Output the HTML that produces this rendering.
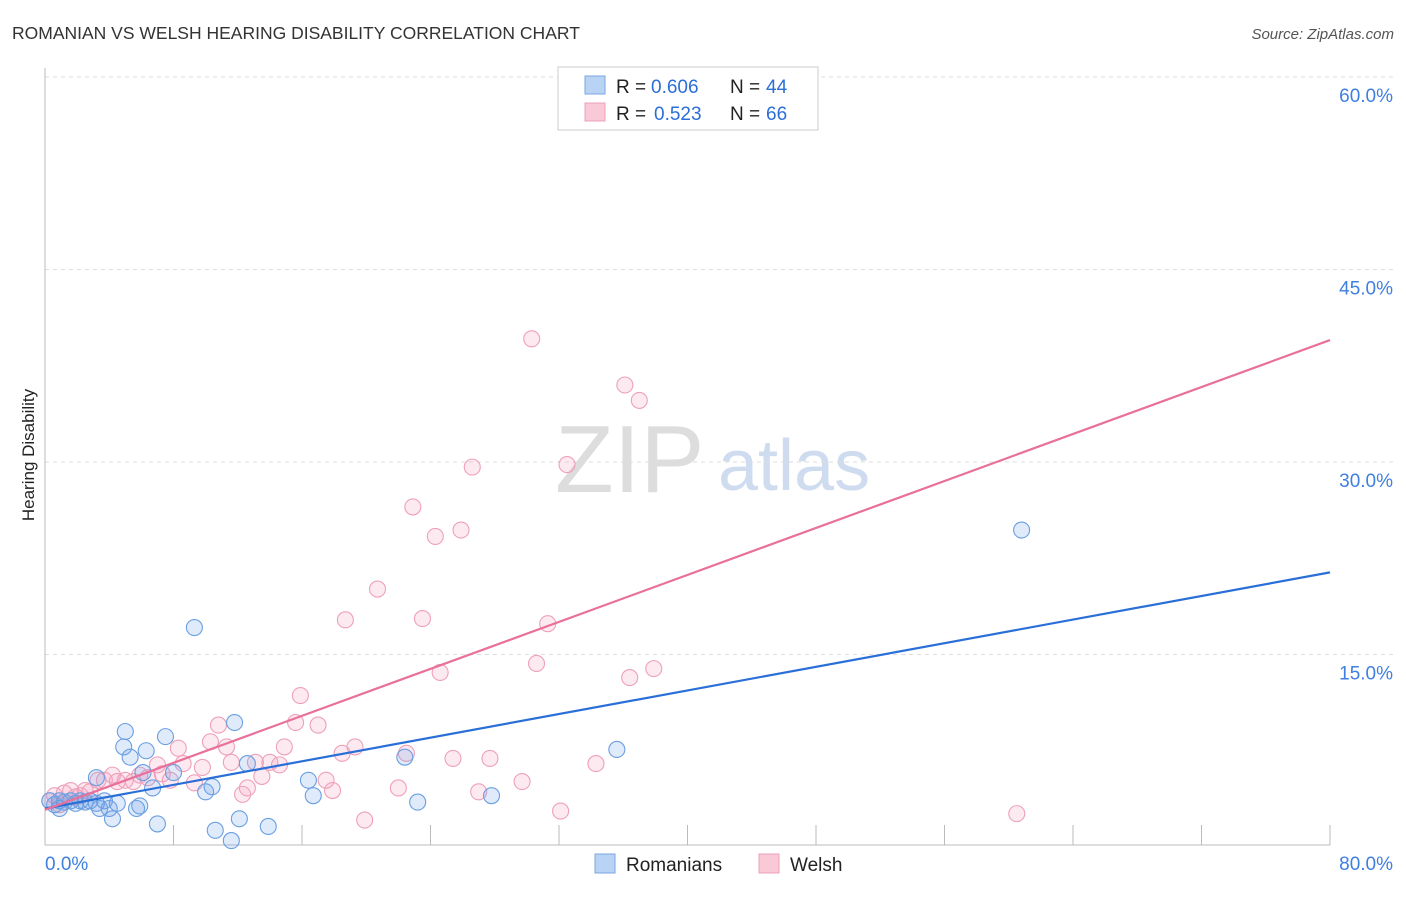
<!DOCTYPE html>
<html><head><meta charset="utf-8">
<style>
body{margin:0;background:#fff;font-family:"Liberation Sans",sans-serif;}
svg text{font-family:"Liberation Sans",sans-serif;}
</style></head>
<body>
<svg id="chart" width="1406" height="892" xmlns="http://www.w3.org/2000/svg">
<text x="12" y="39" font-size="17.5" fill="#333">ROMANIAN VS WELSH HEARING DISABILITY CORRELATION CHART</text>
<text x="1394" y="39" font-size="15" fill="#555" font-style="italic" text-anchor="end">Source: ZipAtlas.com</text>
<text x="34" y="455" font-size="17" fill="#222" transform="rotate(-90 34 455)" text-anchor="middle">Hearing Disability</text>
<text x="555" y="492" font-size="96" fill="#ddd" font-family="Liberation Serif">ZIP</text>
<text x="718" y="490" font-size="72" fill="#cfdcf0">atlas</text>
<g id="grid"></g><g id="pts"></g><g id="lines"></g>
<g>
<rect x="558" y="67" width="260" height="63" fill="#fff" stroke="#ccc"/>
<rect x="585" y="76" width="20" height="18" fill="#b9d3f5" stroke="#7aa6e0"/>
<rect x="585" y="103" width="20" height="18" fill="#f9c9d8" stroke="#eea0b8"/>
<text x="616" y="93" font-size="19" fill="#222">R =</text>
<text x="651" y="93" font-size="19" fill="#2a6fd8">0.606</text>
<text x="730" y="93" font-size="19" fill="#222">N =</text>
<text x="766" y="93" font-size="19" fill="#2a6fd8">44</text>
<text x="616" y="120" font-size="19" fill="#222">R =</text>
<text x="654" y="120" font-size="19" fill="#2a6fd8">0.523</text>
<text x="730" y="120" font-size="19" fill="#222">N =</text>
<text x="766" y="120" font-size="19" fill="#2a6fd8">66</text>
</g>
<g>
<rect x="595" y="854" width="20" height="19" fill="#b9d3f5" stroke="#7aa6e0"/>
<text x="626" y="871" font-size="19" fill="#222">Romanians</text>
<rect x="759" y="854" width="20" height="19" fill="#f9c9d8" stroke="#eea0b8"/>
<text x="790" y="871" font-size="19" fill="#222">Welsh</text>
</g>
</svg>
<script>
const xTicks=[0,80];
const yTicks=[15,30,45,60];
const blueX=[0.3,0.6,0.9,1.2,1.6,1.9,2.2,2.5,2.8,3.2,3.2,3.4,3.7,4.0,4.2,4.5,5.0,4.9,5.3,5.7,5.9,6.1,6.3,6.7,7.0,7.5,8.0,9.3,10.0,10.4,10.6,11.6,11.8,12.1,12.6,13.9,16.4,16.7,22.4,23.2,27.8,35.6,60.8,0.9];
const blueY=[3.6,3.3,3.6,3.5,3.6,3.4,3.6,3.5,3.6,3.4,5.4,3.0,3.6,3.0,2.2,3.4,9.0,7.8,7.0,3.0,3.2,5.8,7.5,4.6,1.8,8.6,5.8,17.1,4.3,4.7,1.3,0.5,9.7,2.2,6.5,1.6,5.2,4.0,7.0,3.5,4.0,7.6,24.7,3.0];
const pinkX=[0.3,0.6,0.9,1.2,1.6,1.9,2.2,2.5,2.8,3.3,3.7,4.2,4.5,5.0,5.5,5.9,6.4,7.0,7.3,7.8,8.3,8.6,9.3,9.8,10.3,10.8,11.3,11.6,12.3,12.6,13.1,13.5,14.0,14.6,14.9,15.6,15.9,17.0,17.5,17.9,18.5,18.7,19.3,19.9,20.7,22.0,22.5,22.9,23.5,24.3,24.6,25.4,25.9,26.6,27.0,27.7,29.7,30.3,30.6,31.3,32.1,32.5,34.3,36.1,36.4,37.0,37.9,60.5];
const pinkY=[3.6,4.0,3.3,4.2,4.4,3.9,4.0,4.4,4.3,5.2,5.2,5.6,5.1,5.2,5.1,5.6,5.4,6.4,5.7,5.2,7.7,6.5,5.0,6.2,8.2,9.5,7.8,6.6,4.1,4.6,6.6,5.5,6.6,6.4,7.8,9.7,11.8,9.5,5.2,4.4,7.3,17.7,7.8,2.1,20.1,4.6,7.3,26.5,17.8,24.2,13.6,6.9,24.7,29.6,4.3,6.9,5.1,39.6,14.3,17.4,2.8,29.8,6.5,36.0,13.2,34.8,13.9,2.6];
const blueLine=[3.0,21.4];
const pinkLine=[2.9,39.5];
const NS="http://www.w3.org/2000/svg";
const X=v=>45+v/80*1285;
const Y=v=>847-v/15*192.5;
function mk(tag,attrs,parent){const e=document.createElementNS(NS,tag);for(const k in attrs)e.setAttribute(k,attrs[k]);parent.appendChild(e);return e;}
const grid=document.getElementById('grid');
yTicks.forEach(t=>{
 const l=mk('line',{x1:45,x2:1395,y1:Y(t),y2:Y(t),stroke:'#ddd','stroke-dasharray':'4,4'},grid);
 
 
 const tx=mk('text',{x:1393,y:Y(t)+25,'font-size':19,fill:'#3f7fe0','text-anchor':'end'},grid);
 tx.textContent=t.toFixed(1)+'%';
 
 
});
mk('line',{x1:45,x2:45,y1:68,y2:845,stroke:'#bbb'},grid);
mk('line',{x1:45,x2:1330,y1:845,y2:845,stroke:'#bbb'},grid);
for(let i=1;i<=10;i++){const tk=mk('line',{x1:X(i*8),x2:X(i*8),y1:825,y2:845,stroke:'#bbb'},grid);
 
 }
xTicks.forEach((t,i)=>{
 const tx=mk('text',{x:i?1393:45,y:870,'font-size':19,fill:'#3f7fe0','text-anchor':i?'end':'start'},grid);
 tx.textContent=t.toFixed(1)+'%';
 
 
});
const pts=document.getElementById('pts');
pinkX.forEach((x,i)=>{const c=mk('circle',{cx:X(x),cy:Y(pinkY[i]),r:8,fill:'rgba(244,160,190,0.22)',stroke:'#eea0b8','stroke-width':1.1},pts);
 
 });
blueX.forEach((x,i)=>{const c=mk('circle',{cx:X(x),cy:Y(blueY[i]),r:8,fill:'rgba(110,160,230,0.22)',stroke:'#6a9fe0','stroke-width':1.1},pts);
 
 });
const lines=document.getElementById('lines');
const bl=mk('line',{x1:X(0),y1:Y(blueLine[0]),x2:X(80),y2:Y(blueLine[1]),stroke:'#2a6fd8','stroke-width':2.2},lines);


const pl=mk('line',{x1:X(0),y1:Y(pinkLine[0]),x2:X(80),y2:Y(pinkLine[1]),stroke:'#e8709a','stroke-width':2.2},lines);


</script>
</body></html>
